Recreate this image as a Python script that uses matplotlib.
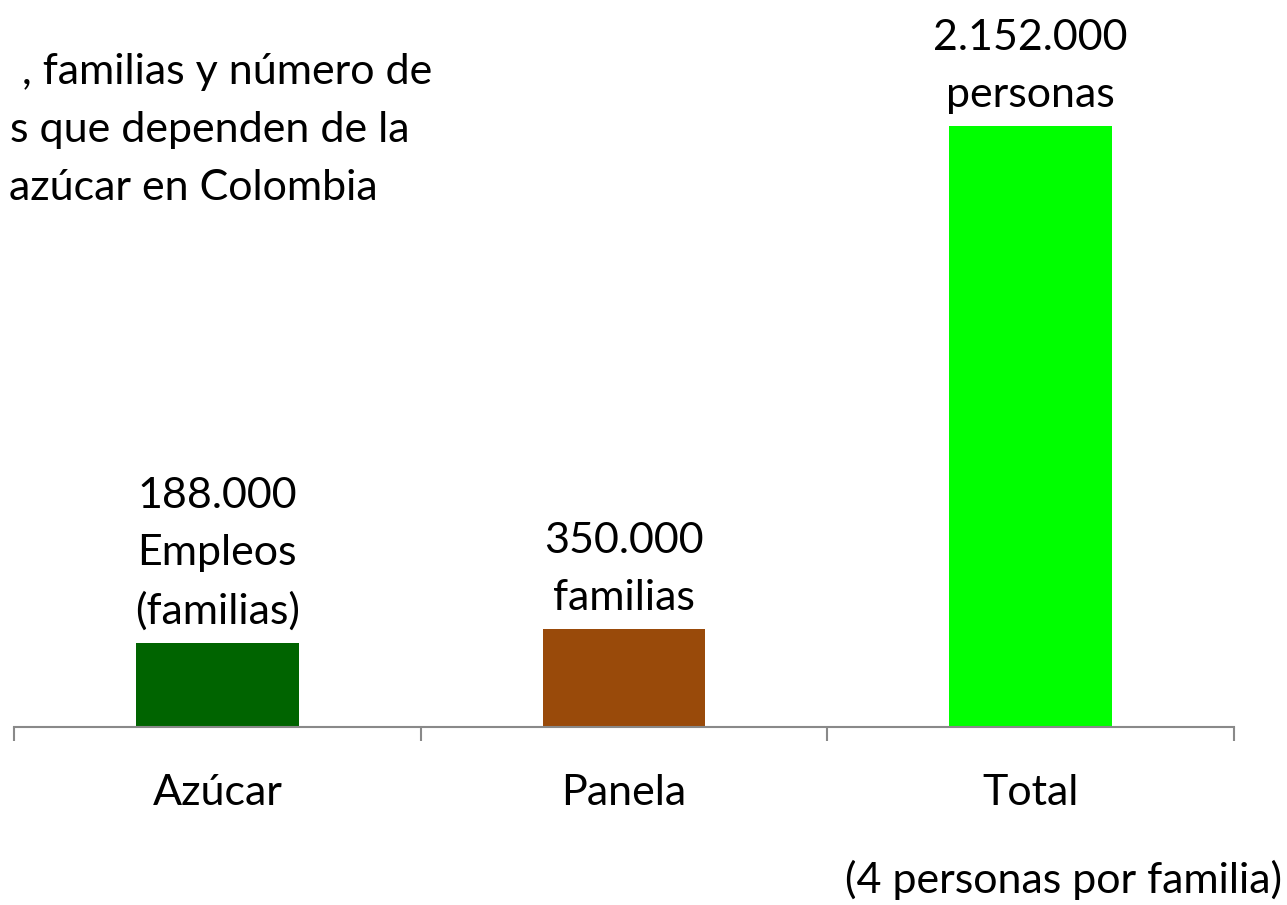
import matplotlib.pyplot as plt

# datos del grafico
categorias = ["Azúcar", "Panela", "Total"]
alturas = [298000, 348000, 2152000]  # altura dibujada de cada barra
etiquetas = ["188.000\nEmpleos\n(familias)", "350.000\nfamilias", "2.152.000\npersonas"]
colores = ["#006400", "#994A0A", "#00FF00"]
titulo = [", familias y número de", "s que dependen de la", "azúcar en Colombia"]
nota = "(4 personas por familia)"

plt.rcParams['font.family'] = ['Lato', 'DejaVu Sans']
fs = 31

fig = plt.figure(figsize=(12.87, 9.05), dpi=100)
ax = fig.add_axes([14 / 1287, 1 - 726.5 / 905, 1220 / 1287, 600.5 / 905])

x = range(len(categorias))
bars = ax.bar(x, alturas, width=0.4, color=colores)
ax.set_xlim(-0.5, 2.5)
ax.set_ylim(0, max(alturas))

for b, txt in zip(bars, etiquetas):
    ax.annotate(txt, (b.get_x() + b.get_width() / 2, b.get_height()),
                xytext=(0, 9), textcoords="offset points",
                ha="center", va="bottom", fontsize=fs, linespacing=1.6,
                annotation_clip=False)

# ejes
for s in ["left", "right", "top"]:
    ax.spines[s].set_visible(False)
ax.spines["bottom"].set_color("#898989")
ax.spines["bottom"].set_linewidth(1.5)
ax.set_yticks([])
ax.set_xticks([-0.5, 0.5, 1.5, 2.5])
ax.set_xticks(list(x), minor=True)
ax.set_xticklabels([])
ax.set_xticklabels(categorias, minor=True, fontsize=fs)
ax.tick_params(axis="x", which="major", length=10, width=1.5, color="#898989")
ax.tick_params(axis="x", which="minor", length=0, pad=34)

for i, linea in enumerate(titulo):
    fig.text((432, 410, 378)[i] / 1287, 1 - (72 + 58 * i) / 905, linea,
             ha="right", va="center", fontsize=fs)

fig.text(1282 / 1287, 1 - 880 / 905, nota, ha="right", va="center", fontsize=fs)

fig.savefig("out.png", dpi=100)
